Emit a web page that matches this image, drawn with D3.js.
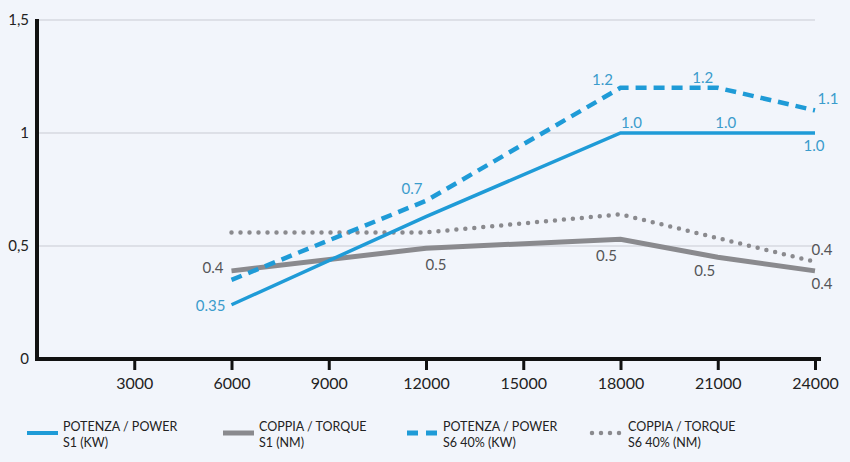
<!DOCTYPE html>
<html>
<head>
<meta charset="utf-8">
<script src="https://cdn.jsdelivr.net/npm/d3@7"></script>
<style>
  html, body { margin: 0; padding: 0; background: #f2f5fb; }
  svg { display: block; font-family: Lato, "Open Sans", sans-serif; }
</style>
</head>
<body>
<div id="chart"></div>
<script>
// Chart data
const rpm = [6000, 12000, 18000, 21000, 24000];
const powerS1 = [0.24, 0.63, 1.0, 1.0, 1.0];
const torqueS1 = [0.39, 0.49, 0.53, 0.45, 0.39];
const powerS6 = [0.35, 0.7, 1.2, 1.2, 1.1];
const torqueS6Rpm = [6000, 12000, 18000, 24000];
const torqueS6 = [0.56, 0.56, 0.64, 0.43];

const xTicks = [3000, 6000, 9000, 12000, 15000, 18000, 21000, 24000];
const yTicks = [0, 0.5, 1, 1.5];
const yTickLabels = ['0', '0,5', '1', '1,5'];

// Value labels written on the chart: [text, rpm, value, colour key]
const valueLabels = [
    ['0.35', 6000, 0.24, 'blue', -6, 6, 'end'],
    ['0.4', 6000, 0.39, 'gray', -8, 2, 'end'],
    ['0.5', 12000, 0.49, 'gray', 10, 22, 'middle'],
    ['0.7', 12000, 0.7, 'blue', -14, -7, 'middle'],
    ['1.2', 18000, 1.2, 'blue', -18, -3, 'middle'],
    ['1.2', 21000, 1.2, 'blue', -15, -5, 'middle'],
    ['1.1', 24000, 1.1, 'blue', 13, -6, 'middle'],
    ['1.0', 18000, 1.0, 'blue', 11, -5, 'middle'],
    ['1.0', 21000, 1.0, 'blue', 8, -5, 'middle'],
    ['1.0', 24000, 1.0, 'blue', -1, 18, 'middle'],
    ['0.5', 18000, 0.53, 'gray', -14, 22, 'middle'],
    ['0.5', 21000, 0.45, 'gray', -13, 19, 'middle'],
    ['0.4', 24000, 0.43, 'gray', 7, -7, 'middle'],
    ['0.4', 24000, 0.39, 'gray', 7, 18, 'middle']
];

const legendItems = [
    { l1: 'POTENZA / POWER', l2: 'S1 (KW)', color: '#1f9bd7', dash: null, width: 4, x: 27 },
    { l1: 'COPPIA / TORQUE', l2: 'S1 (NM)', color: '#8a8a8e', dash: null, width: 5, x: 223 },
    { l1: 'POTENZA / POWER', l2: 'S6 40% (KW)', color: '#1f9bd7', dash: '11,8', width: 5, x: 407 },
    { l1: 'COPPIA / TORQUE', l2: 'S6 40% (NM)', color: '#8a8a8e', dash: '0,9', width: 4.5, x: 589, round: true }
];

const colors = { blue: '#3b9ccc', gray: '#555558' };

const W = 850, H = 462;
const margin = { top: 20, right: 35, bottom: 103, left: 37 };

const svg = d3.select('#chart').append('svg')
    .attr('width', W)
    .attr('height', H);

svg.append('rect').attr('width', W).attr('height', H).attr('fill', '#f2f5fb');

const x = d3.scaleLinear()
    .domain([0, 24000])
    .range([margin.left, W - margin.right]);

const y = d3.scaleLinear()
    .domain([0, 1.5])
    .range([H - margin.bottom, margin.top]);

// Grid lines
svg.append('g')
    .selectAll('line')
    .data(yTicks.filter(d => d > 0))
    .enter()
    .append('line')
    .attr('x1', x(0))
    .attr('x2', x(24000))
    .attr('y1', d => y(d))
    .attr('y2', d => y(d))
    .attr('stroke', '#c9cbd3')
    .attr('stroke-width', 1);

// Y tick labels
svg.append('g')
    .selectAll('text')
    .data(yTicks)
    .enter()
    .append('text')
    .attr('x', 29)
    .attr('y', d => y(d) + 5)
    .attr('text-anchor', 'end')
    .attr('font-size', 15)
    .attr('fill', '#222')
    .text((d, i) => yTickLabels[i]);

// X axis
const xAxis = svg.append('g')
    .attr('transform', `translate(0,${y(0)})`)
    .call(d3.axisBottom(x).tickValues(xTicks).tickSize(11).tickSizeOuter(0).tickPadding(8).tickFormat(d => d));
xAxis.select('.domain').attr('stroke', '#111').attr('stroke-width', 4)
    .attr('d', `M${x(0) - 2},0H${x(24000) + 6}`);
xAxis.selectAll('.tick line').attr('stroke', '#111').attr('stroke-width', 3);
xAxis.selectAll('.tick text')
    .attr('font-size', 16)
    .attr('fill', '#222')
    .attr('font-family', 'Lato, sans-serif');

// Y axis line
svg.append('line')
    .attr('x1', x(0)).attr('x2', x(0))
    .attr('y1', y(1.5) - 1).attr('y2', y(0) + 2)
    .attr('stroke', '#111')
    .attr('stroke-width', 4);

const line = d3.line()
    .x(d => x(d[0]))
    .y(d => y(d[1]));

// Series
svg.append('path')
    .attr('d', line(d3.zip(rpm, torqueS1)))
    .attr('fill', 'none')
    .attr('stroke', '#8a8a8e')
    .attr('stroke-width', 5);

svg.append('path')
    .attr('d', line(d3.zip(torqueS6Rpm, torqueS6)))
    .attr('fill', 'none')
    .attr('stroke', '#8a8a8e')
    .attr('stroke-width', 4.5)
    .attr('stroke-linecap', 'round')
    .attr('stroke-dasharray', '0,9');

svg.append('path')
    .attr('d', line(d3.zip(rpm, powerS1)))
    .attr('fill', 'none')
    .attr('stroke', '#1f9bd7')
    .attr('stroke-width', 3.5);

svg.append('path')
    .attr('d', line(d3.zip(rpm, powerS6)))
    .attr('fill', 'none')
    .attr('stroke', '#1f9bd7')
    .attr('stroke-width', 4.5)
    .attr('stroke-dasharray', '11,7');

// Value labels
svg.append('g')
    .selectAll('text')
    .data(valueLabels)
    .enter()
    .append('text')
    .attr('x', d => x(d[1]) + d[4])
    .attr('y', d => y(d[2]) + d[5])
    .attr('text-anchor', d => d[6])
    .attr('font-size', 15)
    .attr('fill', d => colors[d[3]])
    .text(d => d[0]);

// Legend
const legend = svg.append('g').attr('transform', 'translate(0,433)');
legendItems.forEach(item => {
    const g = legend.append('g').attr('transform', `translate(${item.x},0)`);
    g.append('line')
        .attr('x1', item.round ? 3 : 0).attr('x2', 31)
        .attr('y1', 0).attr('y2', 0)
        .attr('stroke', item.color)
        .attr('stroke-width', item.width)
        .attr('stroke-linecap', item.round ? 'round' : 'butt')
        .attr('stroke-dasharray', item.dash);
    g.append('text').attr('x', item.round ? 39 : 36).attr('y', -2)
        .attr('font-size', 12.5).attr('fill', '#222').text(item.l1);
    g.append('text').attr('x', item.round ? 39 : 36).attr('y', 14)
        .attr('font-size', 12.5).attr('fill', '#222').text(item.l2);
});
</script>
</body>
</html>
